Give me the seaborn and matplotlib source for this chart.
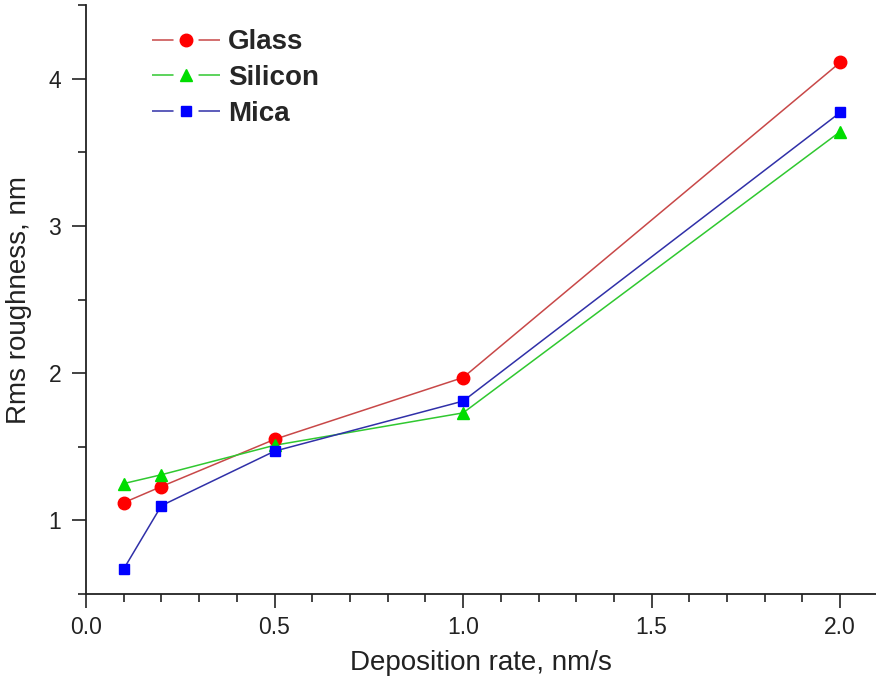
import numpy as np
import pandas as pd
import seaborn as sns
import matplotlib
matplotlib.use("Agg")
import matplotlib.pyplot as plt
from matplotlib.lines import Line2D
from matplotlib.ticker import MultipleLocator, FormatStrFormatter

# Data
rate = [0.1, 0.2, 0.5, 1.0, 2.0]
glass = [1.12, 1.23, 1.55, 1.97, 4.11]
silicon = [1.25, 1.31, 1.51, 1.73, 3.64]
mica = [0.67, 1.10, 1.47, 1.81, 3.77]
series_names = ["Glass", "Silicon", "Mica"]

sns.set_theme(style="ticks")
plt.rcParams["font.family"] = ["Liberation Sans", "DejaVu Sans"]
plt.rcParams["lines.scale_dashes"] = False

df = pd.DataFrame({
    "rate": rate * 3,
    "rms": glass + silicon + mica,
    "substrate": sum([[n] * len(rate) for n in series_names], []),
})

line_colors = {"Glass": "#c84848", "Silicon": "#30c830", "Mica": "#3030a8"}
marker_colors = {"Glass": "#ff0000", "Silicon": "#00dd00", "Mica": "#0000ff"}
marker_shapes = {"Glass": "o", "Silicon": "^", "Mica": "s"}
marker_sizes = {"Glass": 9, "Silicon": 9, "Mica": 7.5}

fig = plt.figure(figsize=(8.76, 6.88), dpi=100)
ax = fig.add_axes([86 / 876, 94 / 688, 790 / 876, 589 / 688])

sns.lineplot(data=df, x="rate", y="rms", hue="substrate", palette=line_colors,
             linewidth=1.1, legend=False, ax=ax, zorder=2)
for name in series_names:
    sub = df[df["substrate"] == name]
    ax.plot(sub["rate"], sub["rms"], linestyle="none", marker=marker_shapes[name],
            markersize=marker_sizes[name], markerfacecolor=marker_colors[name],
            markeredgecolor=marker_colors[name], zorder=3)

ax.set_xlim(0, 2.095)
ax.set_ylim(0.5, 4.5)
ax.xaxis.set_major_locator(MultipleLocator(0.5))
ax.xaxis.set_minor_locator(MultipleLocator(0.1))
ax.yaxis.set_major_locator(MultipleLocator(1))
ax.yaxis.set_minor_locator(MultipleLocator(0.5))
ax.xaxis.set_major_formatter(FormatStrFormatter("%.1f"))
ax.tick_params(axis="both", which="major", direction="out", length=10, width=1.2,
               labelsize=16.5, colors="#222222", pad=6)
ax.tick_params(axis="both", which="minor", direction="out", length=6, width=1.2,
               colors="#222222")
ax.tick_params(axis="y", pad=8)
for s in ["top", "right"]:
    ax.spines[s].set_visible(False)
for s in ["left", "bottom"]:
    ax.spines[s].set_linewidth(1.3)
    ax.spines[s].set_color("#222222")

ax.set_xlabel("Deposition rate, nm/s", fontsize=20, color="#222222", labelpad=8)
ax.set_ylabel("Rms roughness, nm", fontsize=20, color="#222222", labelpad=12)

# Legend handles: broken line segments with the symbol in the gap
handles = []
for n in series_names:
    seg = Line2D([0], [0], color=line_colors[n], linewidth=1.1,
                 linestyle=(0, (15.5, 18)))
    mk = Line2D([0], [0], linestyle="none", marker=marker_shapes[n],
                markersize=marker_sizes[n], markerfacecolor=marker_colors[n],
                markeredgecolor=marker_colors[n])
    handles.append((seg, mk))
leg = ax.legend(handles, series_names, loc="upper left",
                bbox_to_anchor=(52 / 790, 0.982), borderpad=0,
                frameon=False, handlelength=2.45, handletextpad=0.3,
                labelspacing=0.35,
                prop={"weight": "bold", "size": 20})

fig.savefig("out.png", dpi=100)
